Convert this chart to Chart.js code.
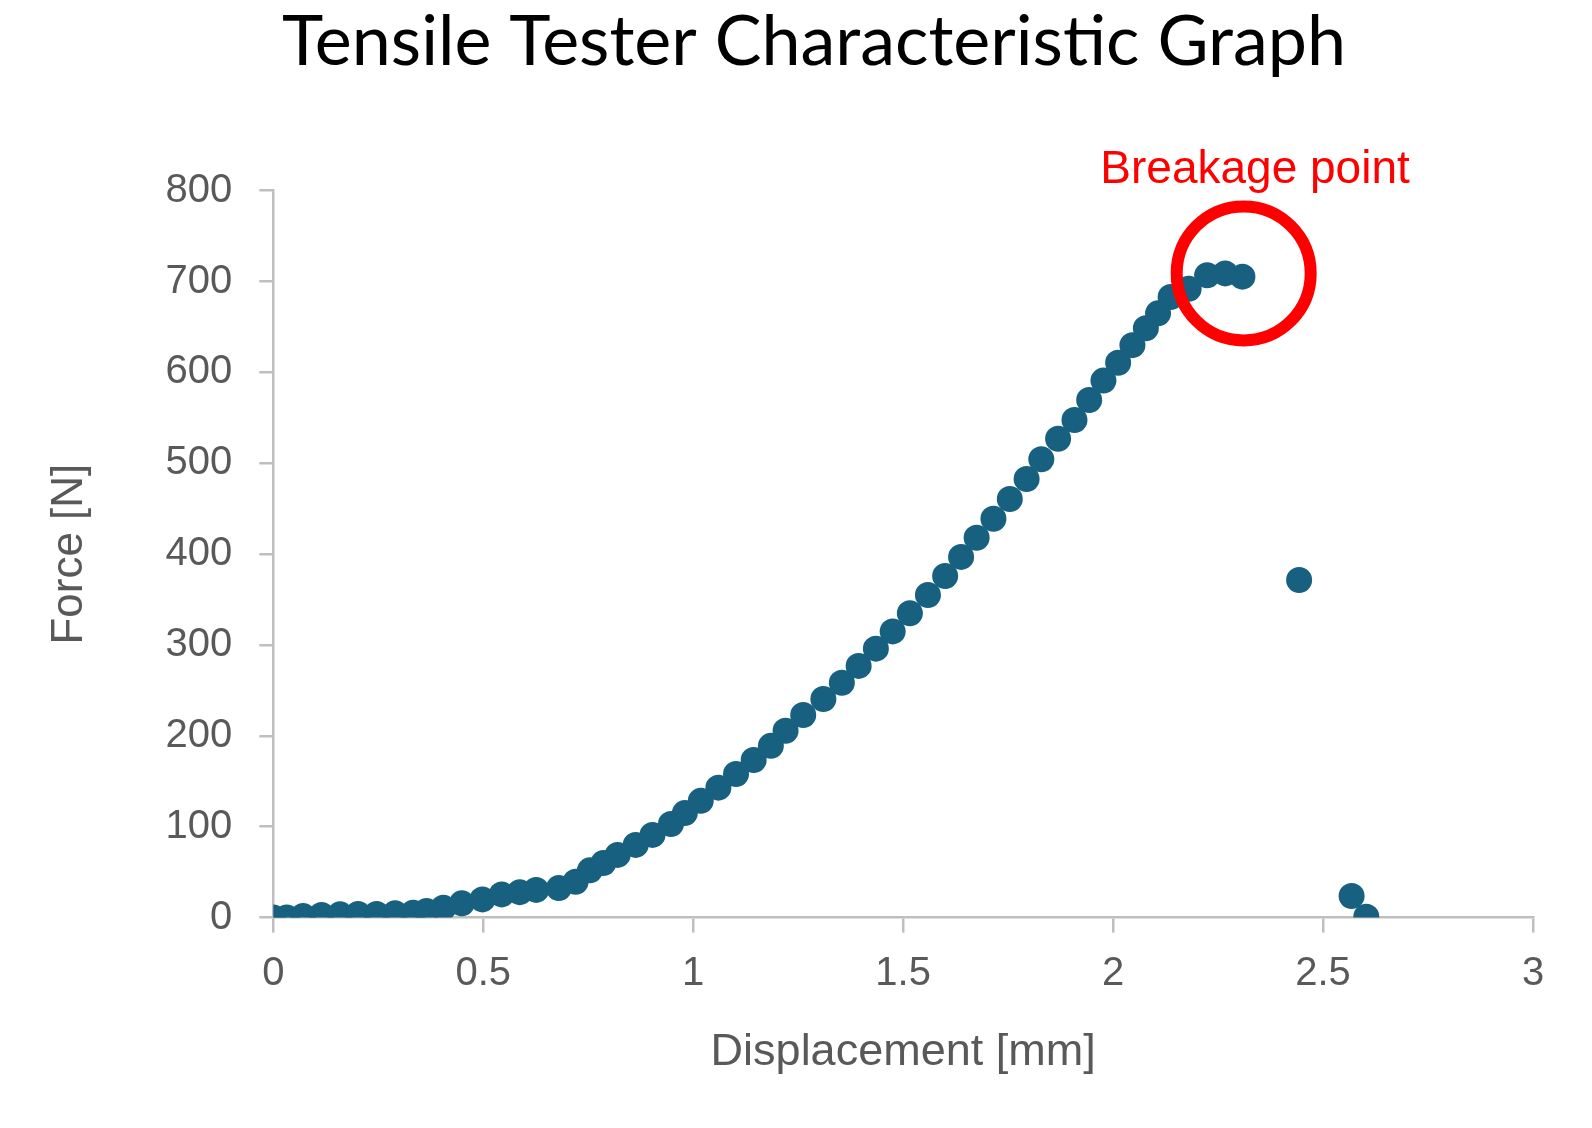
<!DOCTYPE html>
<html>
<head>
<meta charset="utf-8">
<script src="https://cdn.jsdelivr.net/npm/chart.js@4"></script>
<style>
  html, body { margin: 0; padding: 0; background: #fff; }
  #wrap { width: 1592px; height: 1128px; }
</style>
</head>
<body>
<div id="wrap"><canvas id="c" width="1592" height="1128"></canvas></div>
<script>
const displacement = [0, 0.032, 0.071, 0.115, 0.159, 0.202, 0.246, 0.290, 0.333, 0.365, 0.405, 0.449, 0.498, 0.544, 0.587, 0.626, 0.680, 0.720, 0.754, 0.786, 0.820, 0.863, 0.903, 0.947, 0.980, 1.018, 1.060, 1.102, 1.144, 1.185, 1.220, 1.262, 1.310, 1.354, 1.394, 1.435, 1.475, 1.516, 1.559, 1.600, 1.638, 1.675, 1.715, 1.754, 1.794, 1.829, 1.869, 1.908, 1.943, 1.977, 2.012, 2.046, 2.078, 2.107, 2.137, 2.180, 2.224, 2.267, 2.308, 2.443, 2.568, 2.603];
const force = [0, 0, 1.8, 2.9, 3.6, 4, 4, 4.7, 5.4, 7.3, 10.9, 15.7, 20, 25.5, 28, 30.5, 32.5, 39.5, 52, 60, 69, 80, 91, 103, 115, 128.5, 143, 158, 173.5, 189, 205.7, 223, 240.6, 258.5, 277, 296, 315, 335, 355, 376, 397, 418, 439, 460.7, 482.7, 504.4, 527, 547.6, 569.7, 591, 610.7, 630, 648.6, 665, 683, 692, 707, 709, 705.4, 371.6, 23.8, 1];
const titleText = "Tensile Tester Characteristic Graph";
const xAxisTitle = "Displacement [mm]";
const yAxisTitle = "Force [N]";
const breakageLabel = "Breakage point";
const breakageCircle = [2.311, 709];   // data coords of the highlight circle
const breakageText = [2.338, 809];     // data coords of the label

const points = displacement.map((x, i) => ({x: x, y: force[i]}));
const axisColor = '#bfbfbf';
const tickColor = '#595959';
const sansFont = '"Liberation Sans", Arial, sans-serif';

const annotationPlugin = {
  id: 'breakage',
  afterDatasetsDraw(chart) {
    const ctx = chart.ctx;
    const xs = chart.scales.x, ys = chart.scales.y;
    ctx.save();
    ctx.beginPath();
    ctx.arc(xs.getPixelForValue(breakageCircle[0]), ys.getPixelForValue(breakageCircle[1]), 67, 0, Math.PI * 2);
    ctx.lineWidth = 12;
    ctx.strokeStyle = '#ff0000';
    ctx.stroke();
    ctx.fillStyle = '#ff0000';
    ctx.font = '46px ' + sansFont;
    ctx.textAlign = 'center';
    ctx.textBaseline = 'alphabetic';
    ctx.fillText(breakageLabel, xs.getPixelForValue(breakageText[0]), ys.getPixelForValue(breakageText[1]));
    ctx.restore();
  }
};

new Chart(document.getElementById('c'), {
  type: 'scatter',
  data: {
    datasets: [{
      data: points,
      pointRadius: 13,
      pointHoverRadius: 13,
      pointBackgroundColor: '#17607f',
      pointBorderWidth: 0,
      showLine: false
    }]
  },
  options: {
    responsive: false,
    animation: false,
    events: [],
    layout: { padding: { left: 36, right: 0, top: 0, bottom: 0 } },
    plugins: {
      legend: { display: false },
      tooltip: { enabled: false },
      title: {
        display: true,
        text: titleText,
        color: '#000000',
        font: { family: 'Lato, "Open Sans", sans-serif', size: 70, weight: 'normal', lineHeight: 1.2 },
        padding: { top: 0, bottom: 106.7 }
      }
    },
    scales: {
      x: {
        type: 'linear',
        min: 0, max: 3,
        ticks: { stepSize: 0.5, color: tickColor, font: { family: sansFont, size: 40 }, padding: 17, maxRotation: 0,
                 callback: (v) => String(v) },
        grid: { drawOnChartArea: false, drawTicks: true, tickLength: 15, color: axisColor, lineWidth: 2.5 },
        border: { display: true, color: axisColor, width: 2.5 },
        title: { display: true, text: xAxisTitle, color: tickColor, font: { family: sansFont, size: 45 }, padding: { top: 0, bottom: 48 } },
        afterFit(s) { s.height = 210.4; }
      },
      y: {
        type: 'linear',
        min: 0, max: 800,
        ticks: { stepSize: 100, color: tickColor, font: { family: sansFont, size: 40 }, padding: 27 },
        grid: { drawOnChartArea: false, drawTicks: true, tickLength: 14, color: axisColor, lineWidth: 2.5 },
        border: { display: true, color: axisColor, width: 2.5 },
        title: { display: true, text: yAxisTitle, color: tickColor, font: { family: sansFont, size: 44 }, padding: { top: 7, bottom: 0 } },
        afterFit(s) { s.width = 237.3; }
      },
      yRightSpace: {
        type: 'linear',
        position: 'right',
        display: true,
        ticks: { display: false },
        grid: { display: false, drawTicks: false },
        border: { display: false },
        afterFit(s) { s.width = 59; }
      }
    }
  },
  plugins: [annotationPlugin]
});
</script>
</body>
</html>
